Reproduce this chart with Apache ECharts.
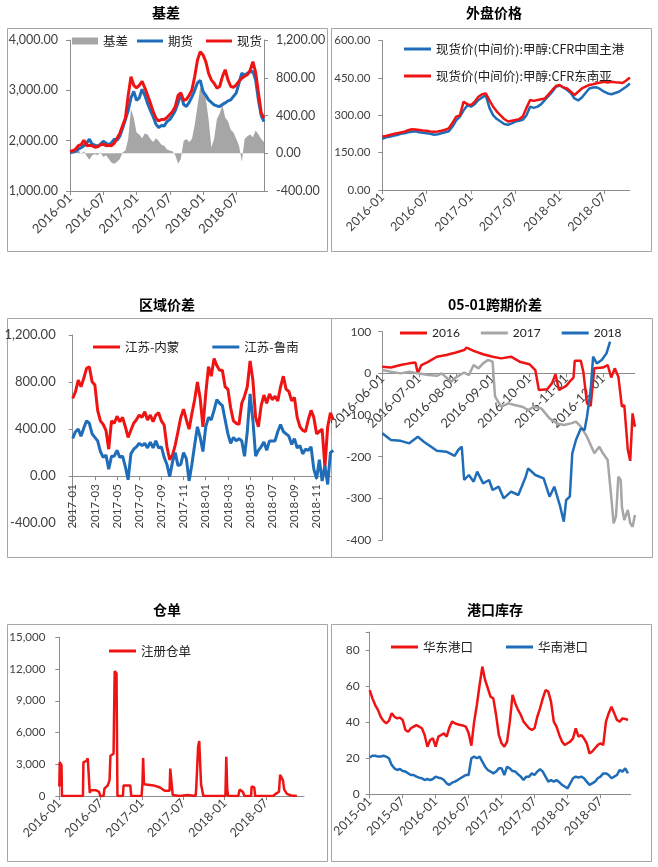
<!DOCTYPE html>
<html><head><meta charset="utf-8">
<script src="https://cdn.jsdelivr.net/npm/echarts@6/dist/echarts.min.js"></script>
<style>html,body{margin:0;padding:0;background:#fff}#c{width:658px;height:867px}</style>
</head><body><div id="c"></div>
<script>
// ---------------- DATA ----------------
// Panel 1: 基差 (half-month samples from 2016-01)
const basisStart = 0, basisStep = 0.5;
const futures = [1760,1775,1790,1830,1860,1900,1950,2030,1930,1910,
  1890,1930,1990,1950,1920,1960,2030,2010,2090,2250,
  2420,2600,2850,2980,2800,2850,3020,2900,2740,2600,
  2480,2330,2260,2300,2290,2380,2420,2500,2600,2750,
  2930,2720,2680,2760,2870,3000,3150,3200,2980,2900,
  2810,2760,2710,2690,2680,2720,2750,2790,2810,2880,
  2950,3150,3340,3300,3340,3360,3380,3200,2800,2500,2380];
const spot = [1790,1800,1830,1900,1920,2010,1900,1910,1900,1870,
  1880,1920,1930,1900,1910,1900,1950,2050,2150,2300,
  2450,2900,3270,3100,3050,3100,3180,3050,2900,2750,
  2580,2450,2390,2420,2420,2460,2520,2580,2680,2900,
  2950,2800,2820,2900,3010,3274,3604,3769,3703,3571,
  3340,3208,3142,3044,3076,3274,3410,3208,3076,3060,
  3110,3180,3240,3280,3310,3400,3570,3350,2950,2550,2450];
const basis = [20,10,30,40,-10,20,-30,-70,-20,-10,
  -20,10,-40,-20,-60,-100,-110,-90,-60,10,
  30,150,470,380,220,200,160,210,200,150,
  120,160,130,90,80,40,30,20,-20,-110,
  -60,130,150,120,150,300,500,700,650,580,
  360,60,150,360,420,510,380,340,250,220,
  150,80,-90,150,180,200,170,240,200,150,120];

// Panel 2: 外盘价格 (half-month samples from 2016-01)
const cfrChina = [205,212,214,218,221,226,228,232,234,236,
  232,230,228,226,222,224,228,232,236,255,
  280,295,320,340,335,345,362,372,380,330,
  300,285,275,265,262,268,275,278,282,300,
  335,330,335,345,362,378,395,415,420,412,
  402,390,368,360,372,390,408,412,413,405,
  395,388,385,390,395,405,415,428];
const cfrSEA = [215,217,221,225,228,231,234,240,244,243,
  241,239,238,235,234,235,238,242,248,270,
  295,300,355,345,341,355,375,385,388,360,
  335,315,300,285,275,278,281,285,295,330,
  362,358,362,365,368,385,402,418,422,412,
  408,395,382,395,408,415,422,425,429,432,
  435,432,435,433,432,430,440,452];

// Panel 3: 区域价差 (quarter-month samples from 2017-01)
const jsNeimeng = [662,718,817,760, 832,917,930,803, 775,560,470,440, 390,230,470,450,
  510,463,500,420, 330,390,450,480, 520,500,548,477, 520,463,520,540,
  470,435,250,140, 180,265,380,500, 570,480,400,530, 650,800,660,420,
  700,930,850,1000, 940,900,900,760, 740,580,470,450, 440,620,680,760,
  980,820,500,420, 600,690,620,700, 650,680,640,760, 850,740,720,640,
  670,500,420,390, 380,480,560,500, 360,380,400,80, 420,540,480];
const jsLunan = [322,378,400,340, 410,470,450,360, 330,300,210,160, 180,60,170,170,
  220,160,170,80, -30,190,230,250, 280,260,280,240, 290,240,300,240,
  250,160,100,-4, 120,200,90,100, 200,150,-40,100, 265,420,330,210,
  420,500,480,560, 650,620,600,480, 360,280,330,300, 320,300,170,380,
  700,480,170,220, 250,290,220,300, 300,300,380,440, 380,360,340,270,
  320,240,260,190, 230,220,250,60, -20,140,-40,90, -70,200,220];

// Panel 4: 05-01跨期价差 (date, value), x axis from 2016-06-01
const spread2016 = [['2016-06-01',16],['2016-06-08',14],['2016-06-16',20],['2016-06-23',24],['2016-06-28',26],
  ['2016-06-30',0],['2016-07-03',20],['2016-07-09',28],['2016-07-16',40],['2016-07-24',44],['2016-08-01',50],
  ['2016-08-08',56],['2016-08-10',62],['2016-08-16',54],['2016-08-24',46],['2016-09-01',40],['2016-09-08',36],
  ['2016-09-16',40],['2016-09-23',28],['2016-10-01',22],['2016-10-06',8],['2016-10-09',-40],['2016-10-16',-38],
  ['2016-10-20',-24],['2016-10-23',-2],['2016-10-26',-40],['2016-11-01',-30],['2016-11-05',-16],['2016-11-07',-10],
  ['2016-11-08',30],['2016-11-13',30],['2016-11-15',4],['2016-11-18',-72],['2016-11-21',-78],['2016-11-24',12],
  ['2016-12-01',14],['2016-12-05',20],['2016-12-08',-10],['2016-12-11',12],['2016-12-14',-8],['2016-12-17',-80],
  ['2016-12-19',-76],['2016-12-22',-184],['2016-12-24',-210],['2016-12-25',-212],['2016-12-26',-96],['2016-12-28',-128]];
const spread2017 = [['2016-06-01',8],['2016-06-08',4],['2016-06-16',0],['2016-06-23',4],['2016-06-30',0],
  ['2016-07-09',-4],['2016-07-16',-6],['2016-07-20',0],['2016-07-24',-10],['2016-07-28',-20],['2016-08-01',-10],
  ['2016-08-08',2],['2016-08-12',-4],['2016-08-16',20],['2016-08-20',12],['2016-08-24',24],['2016-08-28',32],
  ['2016-09-01',28],['2016-09-02',-16],['2016-09-03',-56],['2016-09-08',-80],['2016-09-14',-72],['2016-09-19',-76],
  ['2016-09-25',-80],['2016-09-30',-88],['2016-10-05',-80],['2016-10-11',-84],['2016-10-18',-108],['2016-10-24',-120],
  ['2016-10-30',-124],['2016-11-05',-120],['2016-11-09',-116],['2016-11-13',-128],['2016-11-18',-152],['2016-11-24',-192],
  ['2016-11-28',-176],['2016-12-01',-192],['2016-12-05',-208],['2016-12-08',-296],['2016-12-10',-360],['2016-12-12',-344],
  ['2016-12-14',-248],['2016-12-16',-256],['2016-12-17',-320],['2016-12-19',-352],['2016-12-20',-344],['2016-12-22',-328],
  ['2016-12-24',-360],['2016-12-26',-368],['2016-12-28',-340]];
const spread2018 = [['2016-06-01',-144],['2016-06-08',-160],['2016-06-16',-162],['2016-06-23',-168],['2016-06-30',-152],
  ['2016-07-05',-164],['2016-07-09',-172],['2016-07-16',-186],['2016-07-24',-188],['2016-07-31',-198],['2016-08-03',-184],
  ['2016-08-06',-176],['2016-08-08',-256],['2016-08-12',-244],['2016-08-16',-260],['2016-08-19',-236],['2016-08-24',-264],
  ['2016-08-29',-256],['2016-09-01',-280],['2016-09-06',-272],['2016-09-10',-300],['2016-09-16',-284],['2016-09-22',-292],
  ['2016-09-28',-248],['2016-09-30',-228],['2016-10-06',-244],['2016-10-13',-252],['2016-10-18',-296],['2016-10-22',-272],
  ['2016-10-27',-320],['2016-10-30',-356],['2016-11-01',-304],['2016-11-04',-296],['2016-11-06',-192],['2016-11-09',-160],
  ['2016-11-13',-132],['2016-11-16',-136],['2016-11-18',-104],['2016-11-21',-40],['2016-11-23',40],['2016-11-26',24],
  ['2016-11-30',32],['2016-12-04',48],['2016-12-07',76]];

// Panel 5: 仓单 (date, value), x axis from 2016-01
const warrants = [['2016-01-01',900],['2016-01-03',3200],['2016-01-08',3100],['2016-01-11',2900],['2016-01-13',0],
  ['2016-04-14',0],['2016-04-16',3200],['2016-04-28',3300],['2016-05-05',3550],['2016-05-12',3400],['2016-05-14',300],
  ['2016-05-18',550],['2016-06-10',550],['2016-06-24',400],['2016-06-29',0],['2016-07-14',0],['2016-07-18',700],
  ['2016-08-02',1000],['2016-08-10',1500],['2016-08-14',3800],['2016-08-28',4000],['2016-09-02',11800],['2016-09-10',11600],
  ['2016-09-14',0],['2016-10-08',0],['2016-10-11',1000],['2016-11-10',1000],['2016-11-14',0],['2016-12-30',0],
  ['2017-01-03',1200],['2017-01-06',3600],['2017-01-10',1100],['2017-02-20',1000],['2017-03-20',800],['2017-04-10',500],
  ['2017-05-01',500],['2017-05-04',2600],['2017-05-10',2700],['2017-05-15',100],['2017-05-20',0],['2017-06-15',0],
  ['2017-06-18',100],['2017-07-20',100],['2017-07-25',0],['2017-08-25',0],['2017-08-28',800],['2017-09-05',4600],
  ['2017-09-10',5200],['2017-09-18',1100],['2017-09-28',0],['2018-01-04',0],['2018-01-08',3700],['2018-01-12',700],
  ['2018-01-16',0],['2018-02-28',0],['2018-03-06',600],['2018-03-20',400],['2018-03-28',0],['2018-04-26',0],
  ['2018-04-28',900],['2018-05-10',800],['2018-05-14',0],['2018-08-01',0],['2018-08-10',150],['2018-08-28',400],
  ['2018-09-02',2000],['2018-09-08',2100],['2018-09-14',1500],['2018-09-20',600],['2018-10-02',200],['2018-10-20',50],
  ['2018-11-15',0]];

// Panel 6: 港口库存 (half-month samples from 2015-01)
const eastPort = [57.8,53.2,49.5,46.8,43,40.7,39.4,40.7,45,43,
  42.1,42.5,41.2,35.7,34.7,36.6,37.5,38.4,37.5,36.6,
  32.9,26.4,30.1,31,26.4,32,32.9,33.8,32,37,
  40.3,39.4,38.8,38.4,38.1,37.5,34,27,40,49.5,
  60.6,70.8,63.4,58.8,54.1,53.2,44,32.9,28.3,26.4,
  29.2,40.3,55.1,50.4,46.8,44,40.3,38.4,36.6,35.7,
  36.6,43,47.7,53.2,57.8,56.9,51.4,40.3,37.5,32.9,
  29.2,27.3,28.3,29.2,31,36.6,32,32.9,31,28.3,
  22.7,23.7,25.5,27.3,28.3,27.3,40.3,45,48.5,45,
  41.2,40.3,42.1,41.8,41.2];
const southPort = [20.5,21.4,21.4,20.9,20.9,21.4,20.9,20,16.3,14.4,
  13.5,14,12.9,12.6,11.6,10.7,10.7,9.8,9.2,8.9,
  7.9,8.5,7.9,8.5,9.8,9.2,8.9,7.9,6.1,5.2,
  6.5,7,7.9,8.9,9.8,10.7,10.7,20,20.9,20,
  20.9,18.1,15.3,13.5,12.6,11.6,12.6,14.4,14.4,10.7,
  15.3,14.4,12.9,12.6,11.1,9.8,7.9,9.8,9.8,11.6,
  10.7,12.6,14,12.6,9.8,7,7.9,7,7.9,6.7,
  5.2,4.3,3.3,6.1,8.9,9.8,9.2,9.8,8.9,7,
  5.2,6.1,7,8.9,9.8,11.6,11.6,10.7,8.9,9.8,
  10.7,13.5,12.6,14.4,11.6];

// ---------------- HELPERS ----------------
const RED = '#ee1414', BLUE = '#1f6db8', GRAY = '#a6a6a6', AX = '#8c8c8c', TXT = '#404040';
const FONT = 'Lato, "Noto Sans CJK SC", sans-serif';
const CJK = '"Noto Sans CJK SC", sans-serif';

function seq(values, start, step) { return values.map((v, i) => [start + i * step, v]); }
function monthIndex(d, baseY, baseM) {
  const [y, m, day] = d.split('-').map(Number);
  const dim = new Date(y, m, 0).getDate();
  return (y - baseY) * 12 + (m - baseM) + (day - 1) / dim;
}
function dated(pairs, baseY, baseM) { return pairs.map(([d, v]) => [monthIndex(d, baseY, baseM), v]); }
function isMultiple(v, iv) { return Math.abs(v / iv - Math.round(v / iv)) < 1e-6; }
function monthFmt(baseY, baseM, iv, withDay) {
  return function (v) {
    if (!isMultiple(v, iv)) return '';
    const t = baseY * 12 + (baseM - 1) + Math.round(v);
    const y = Math.floor(t / 12), m = t % 12 + 1;
    return y + '-' + (m < 10 ? '0' : '') + m + (withDay ? '-01' : '');
  };
}
function numFmt(dec, iv) {
  return function (v) {
    if (!isMultiple(v, iv)) return '';
    return v.toLocaleString('en-US', { minimumFractionDigits: dec, maximumFractionDigits: dec });
  };
}
function xAx(grid, max, iv, fmt, rotate, offset, margin, fs) {
  return {
    gridIndex: grid, type: 'value', min: 0, max: max, interval: iv, offset: offset,
    axisLine: { show: true, onZero: false, lineStyle: { color: AX, width: 1 } },
    axisTick: { show: true, length: 4, lineStyle: { color: AX } },
    splitLine: { show: false },
    axisLabel: { rotate: rotate, formatter: fmt, color: TXT, fontSize: fs || 12.5, fontFamily: FONT, margin: margin, showMaxLabel: false }
  };
}
function yAx(grid, min, max, iv, fmt, margin, fs, pos) {
  return {
    gridIndex: grid, type: 'value', min: min, max: max, interval: iv, position: pos || 'left',
    axisLine: { show: true, onZero: false, lineStyle: { color: AX, width: 1 } },
    axisTick: { show: true, length: 4, lineStyle: { color: AX } },
    splitLine: { show: false },
    axisLabel: { formatter: fmt, color: TXT, fontSize: fs || 11.5, fontFamily: FONT, margin: margin }
  };
}
function line(name, color, data, xi, yi, w) {
  return {
    name: name, type: 'line', xAxisIndex: xi, yAxisIndex: yi, data: data, symbol: 'none',
    color: color, itemStyle: { color: color }, lineStyle: { color: color, width: w || 2.5 },
    animation: false
  };
}
function legend(names, left, top, opts) {
  return Object.assign({
    data: names, left: left, top: top, padding: 0, itemGap: 13, itemWidth: 27, itemHeight: 3,
    icon: 'rect', selectedMode: false, itemStyle: { borderWidth: 0 },
    textStyle: { fontSize: 12.5, fontFamily: CJK, color: '#222', lineHeight: 14 }
  }, opts || {});
}
function box(x, y, w, h) {
  return { type: 'rect', silent: true, z: -10, shape: { x: x, y: y, width: w, height: h },
    style: { fill: 'none', stroke: '#a6a6a6', lineWidth: 1 } };
}
function title(text, cx, cy) {
  return { type: 'text', silent: true, x: cx, y: cy,
    style: { text: text, align: 'center', verticalAlign: 'middle', fontSize: 14, fontWeight: 'bold', fill: '#000', fontFamily: CJK } };
}

const grids = [
  { left: 70, top: 40, width: 194, height: 151 },
  { left: 382.3, top: 40.7, width: 247.4, height: 149.3 },
  { left: 72.7, top: 335, width: 258.3, height: 188.3 },
  { left: 382.3, top: 331.7, width: 252.4, height: 208.3 },
  { left: 59.3, top: 637.3, width: 244.7, height: 158.7 },
  { left: 369.7, top: 632, width: 261, height: 162.3 }
].map(g => Object.assign({ containLabel: false, outerBoundsMode: 'none' }, g));

const basisSeries = line('基差', GRAY, seq(basis, basisStart, basisStep), 0, 1);
basisSeries.lineStyle = { width: 0, opacity: 0 };
basisSeries.areaStyle = { color: GRAY, opacity: 1 };

const option = {
  backgroundColor: '#fff',
  animation: false,
  textStyle: { fontFamily: FONT },
  graphic: [
    box(7.5, 28.5, 320, 223), box(331.5, 28.5, 320, 223),
    box(7.5, 318.5, 324, 239), box(331.5, 318.5, 321, 239),
    box(7.5, 624.5, 320, 237), box(331.5, 624.5, 320, 237),
    title('基差', 166, 13), title('外盘价格', 494, 13),
    title('区域价差', 167, 305), title('05-01跨期价差', 495, 305),
    title('仓单', 167, 610), title('港口库存', 495, 610)
  ],
  grid: grids,
  xAxis: [
    xAx(0, 35, 6, monthFmt(2016, 1, 6), 45, 0, 5, 13),
    xAx(1, 33.47, 6, monthFmt(2016, 1, 6), 45, 0, 5, 12.5),
    xAx(2, 23.3, 2, monthFmt(2017, 1, 2), 90, -47.1, 8, 11.5),
    xAx(3, 6.864, 1, monthFmt(2016, 6, 1, true), 45, -166.6, 3, 13),
    xAx(4, 35.5, 6, monthFmt(2016, 1, 6), 45, 0, 5, 12.5),
    xAx(5, 47.5, 6, monthFmt(2015, 1, 6), 45, 0, 5, 12.5)
  ],
  yAxis: [
    yAx(0, 1000, 4000, 1000, numFmt(2, 1000), 12, 12.5),
    yAx(0, -400, 1200, 400, numFmt(2, 400), 12, 12.5, 'right'),
    yAx(1, 0, 600, 150, numFmt(2, 150), 12),
    yAx(2, -400, 1200, 400, numFmt(2, 400), 17, 13),
    yAx(3, -400, 100, 100, numFmt(0, 100), 11, 12),
    yAx(4, 0, 15000, 3000, numFmt(0, 3000), 14),
    yAx(5, 0, 90, 20, numFmt(0, 20), 10, 12)
  ],
  legend: [
    legend(['基差'], 72, 34, { itemWidth: 26, itemHeight: 7 }),
    legend(['期货', '现货'], 137, 34, { itemWidth: 26 }),
    legend(['现货价(中间价):甲醇:CFR中国主港', '现货价(中间价):甲醇:CFR东南亚'], 404, 42, { orient: 'vertical', itemGap: 13 }),
    legend(['江苏-内蒙', '江苏-鲁南'], 93, 340, { itemGap: 33 }),
    legend(['2016', '2017', '2018'], 400, 326, { itemGap: 21, textStyle: { fontSize: 12, fontFamily: FONT, color: '#222', lineHeight: 14 } }),
    legend(['注册仓单'], 109, 644, {}),
    legend(['华东港口', '华南港口'], 391, 640, { itemGap: 33 })
  ],
  series: [
    basisSeries,
    line('期货', BLUE, seq(futures, basisStart, basisStep), 0, 0, 3),
    line('现货', RED, seq(spot, basisStart, basisStep), 0, 0, 3),
    line('现货价(中间价):甲醇:CFR中国主港', BLUE, seq(cfrChina, 0, 0.5), 1, 2),
    line('现货价(中间价):甲醇:CFR东南亚', RED, seq(cfrSEA, 0, 0.5), 1, 2),
    line('江苏-内蒙', RED, seq(jsNeimeng, 0, 0.25), 2, 3, 3),
    line('江苏-鲁南', BLUE, seq(jsLunan, 0, 0.25), 2, 3, 3),
    line('2016', RED, dated(spread2016, 2016, 6), 3, 4),
    line('2017', GRAY, dated(spread2017, 2016, 6), 3, 4),
    line('2018', BLUE, dated(spread2018, 2016, 6), 3, 4),
    line('注册仓单', RED, dated(warrants, 2016, 1), 4, 5),
    line('华东港口', RED, seq(eastPort, 0, 0.5), 5, 6),
    line('华南港口', BLUE, seq(southPort, 0, 0.5), 5, 6)
  ]
};

const chart = echarts.init(document.getElementById('c'), null, { renderer: 'canvas' });
chart.setOption(option);
</script></body></html>
